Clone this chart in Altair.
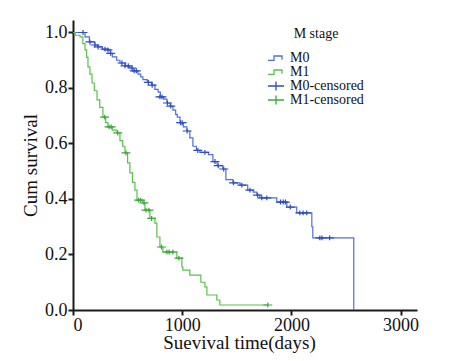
import altair as alt
import pandas as pd

# Kaplan-Meier step points (days, cumulative survival)
m0_time = [0, 110, 150, 200, 225, 270, 310, 340, 360, 400, 430, 480, 520, 550, 595, 620, 640, 680,
           720, 750, 780, 800, 830, 860, 890, 915, 940, 955, 980, 1010, 1043, 1070, 1098, 1130,
           1162, 1240, 1281, 1320, 1372, 1400, 1464, 1530, 1600, 1650, 1683, 1711, 1866, 1958,
           2049, 2187, 2196, 2571]
m0_surv = [1.0, 0.984, 0.966, 0.955, 0.948, 0.94, 0.937, 0.925, 0.912, 0.9, 0.89, 0.88, 0.872,
           0.862, 0.85, 0.84, 0.83, 0.82, 0.81, 0.795, 0.785, 0.768, 0.76, 0.746, 0.735, 0.72,
           0.705, 0.695, 0.675, 0.66, 0.645, 0.62, 0.59, 0.575, 0.568, 0.56, 0.535, 0.52, 0.508,
           0.47, 0.458, 0.45, 0.432, 0.425, 0.414, 0.404, 0.389, 0.371, 0.35, 0.30, 0.26, 0.0]

m1_time = [0, 20, 64, 90, 110, 125, 137, 155, 174, 195, 220, 245, 274, 300, 320, 360, 403, 430,
           455, 476, 500, 521, 545, 567, 586, 640, 659, 704, 750, 768, 796, 823, 951, 997, 1006,
           1070, 1171, 1208, 1226, 1317, 1345, 1784]
m1_surv = [1.0, 0.99, 0.984, 0.96, 0.937, 0.91, 0.876, 0.85, 0.818, 0.79, 0.757, 0.73, 0.695,
           0.675, 0.66, 0.648, 0.638, 0.61, 0.59, 0.566, 0.53, 0.494, 0.46, 0.432, 0.396, 0.386,
           0.36, 0.33, 0.313, 0.263, 0.227, 0.209, 0.187, 0.155, 0.144, 0.126, 0.10, 0.083,
           0.054, 0.036, 0.018, 0.018]

# Censored observations
m0_cens_time = [92, 155, 201, 230, 293, 320, 345, 448, 476, 506, 540, 560, 580, 690, 725, 796,
                815, 865, 895, 985, 1000, 1045, 1143, 1208, 1300, 1330, 1380, 1470, 1546, 1620,
                1690, 1729, 1775, 1900, 1925, 1945, 1990, 2077, 2107, 2140, 2260, 2280, 2350]
m0_cens_surv = [1.0, 0.966, 0.955, 0.948, 0.94, 0.937, 0.925, 0.89, 0.88, 0.88, 0.872, 0.862,
                0.862, 0.82, 0.81, 0.768, 0.768, 0.746, 0.735, 0.675, 0.675, 0.645, 0.575,
                0.568, 0.535, 0.52, 0.508, 0.458, 0.45, 0.432, 0.414, 0.404, 0.404, 0.389,
                0.389, 0.389, 0.371, 0.35, 0.35, 0.35, 0.26, 0.26, 0.26]

m1_cens_time = [290, 330, 350, 410, 485, 600, 620, 650, 668, 695, 720, 810, 860, 880, 915, 970, 1784]
m1_cens_surv = [0.695, 0.66, 0.66, 0.638, 0.566, 0.396, 0.396, 0.386, 0.36, 0.36, 0.33, 0.227,
                0.209, 0.209, 0.209, 0.187, 0.018]

series_names = ["M0", "M1", "M0-censored", "M1-censored"]
series_colors = ["#4f6fd6", "#5cbf4c", "#2f4fbf", "#3aa83a"]

step_path = "M-2,0.6L-0.5,0.6L-0.5,-0.5L1.5,-0.5L1.5,0.45"
plus_path = "M-2,0L2,0M0,-1.1L0,1.1"
series_shapes = [step_path, step_path, plus_path, plus_path]

lines = pd.concat([
    pd.DataFrame({"time": m0_time, "surv": m0_surv, "series": "M0"}),
    pd.DataFrame({"time": m1_time, "surv": m1_surv, "series": "M1"}),
])
cens = pd.concat([
    pd.DataFrame({"time": m0_cens_time, "surv": m0_cens_surv, "series": "M0-censored"}),
    pd.DataFrame({"time": m1_cens_time, "surv": m1_cens_surv, "series": "M1-censored"}),
])

FONT = "Liberation Serif"

x_enc = alt.X("time:Q",
              scale=alt.Scale(domain=[0, 3150], nice=False),
              axis=alt.Axis(values=[0, 1000, 2000, 3000], format="d",
                            title="Suevival time(days)", titleX=166, titleY=23))
y_enc = alt.Y("surv:Q",
              scale=alt.Scale(domain=[0, 1.045], nice=False),
              axis=alt.Axis(values=[0, 0.2, 0.4, 0.6, 0.8, 1.0], format=".1f",
                            title="Cum survival", titlePadding=4))

color_scale = alt.Scale(domain=series_names, range=series_colors)
shape_scale = alt.Scale(domain=series_names, range=series_shapes)


def legend():
    return alt.Legend(title="M stage", orient="none", legendX=196, legendY=7)


line_layer = alt.Chart(lines).mark_line(interpolate="step-after", strokeWidth=1.2).encode(
    x=x_enc, y=y_enc,
    color=alt.Color("series:N", scale=color_scale, legend=legend()),
)

point_layer = alt.Chart(cens).mark_point(filled=False, size=20, strokeWidth=1.2, opacity=1).encode(
    x=x_enc, y=y_enc,
    color=alt.Color("series:N", scale=color_scale, legend=legend()),
    shape=alt.Shape("series:N", scale=shape_scale, legend=legend()),
)

chart = alt.layer(line_layer, point_layer).properties(
    width=344, height=290,
    autosize=alt.AutoSizeParams(type="none"),
    padding={"left": 65, "top": 12, "right": 32, "bottom": 43},
    background="white",
).configure_view(stroke=None).configure_axis(
    grid=False,
    domainColor="#1a1a1a", domainWidth=2,
    tickColor="#1a1a1a", tickWidth=2, tickSize=5,
    labelFont=FONT, labelFontSize=18, labelColor="#111111", labelPadding=1,
    titleFont=FONT, titleFontSize=19, titleFontWeight="normal", titleColor="#111111",
).configure_legend(
    titleFont=FONT, titleFontSize=14, titleFontWeight="normal", titleColor="#111111",
    titleAnchor="middle", titlePadding=10,
    labelFont=FONT, labelFontSize=14, labelColor="#111111", labelOffset=7,
    symbolSize=64, symbolStrokeWidth=1.3, rowPadding=-1, symbolFillColor="transparent",
)

chart.save("out.html", embed_options={"renderer": "svg", "actions": False})
